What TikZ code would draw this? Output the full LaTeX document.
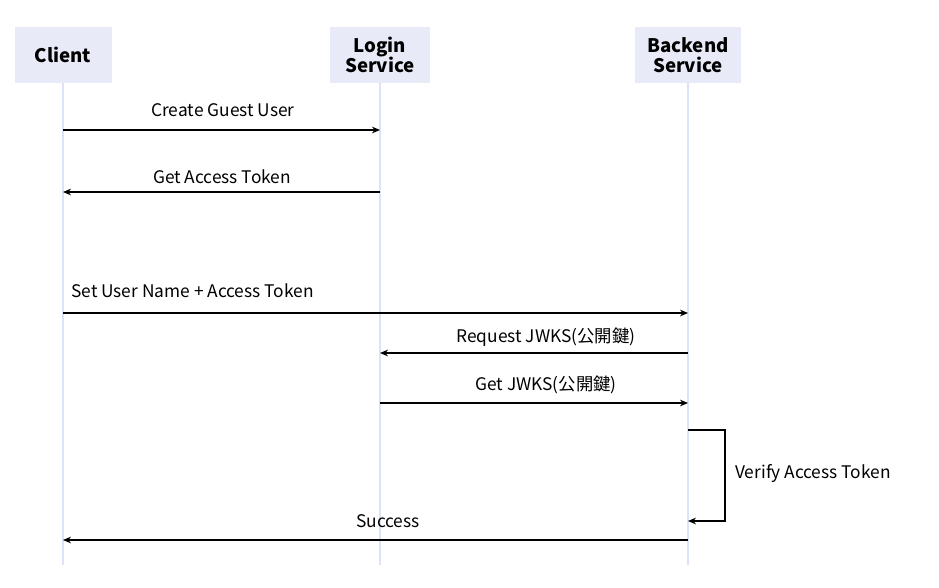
\documentclass[tikz,border=0pt]{standalone}
\usepackage{fontspec}
\setmainfont{Noto Sans CJK JP}
\usetikzlibrary{positioning,arrows.meta}
\definecolor{headfill}{HTML}{E8EAF8}
\definecolor{lifeline}{HTML}{DCE2F7}
\begin{document}
\begin{tikzpicture}[x=0.75pt,y=-0.75pt,
    head/.style={fill=headfill,font=\bfseries\fontsize{14}{15}\selectfont,align=center,minimum height=56*0.75pt,inner sep=0pt},
    life/.style={draw=lifeline,line width=2.2pt},
    msg/.style={-{Stealth[length=6pt,width=5pt]},line width=0.8pt},
    lbl/.style={font=\fontsize{13}{14}\selectfont,inner sep=0pt}]
\useasboundingbox (0,0) rectangle (939,587);
            % participants
            \node[head,minimum width=97*0.75pt] (client)  at (63,55)  {Client};
            \node[head,minimum width=100*0.75pt] (login)  at (380,55) {Login\\Service};
            \node[head,minimum width=106*0.75pt] (backend) at (688,55) {Backend\\Service};
            \coordinate (cb) at (63,565);
            \coordinate (lb) at (380,565);
            \coordinate (bb) at (688,565);
            \draw[life] (client.south) -- (cb);
            \draw[life] (login.south) -- (lb);
            \draw[life] (backend.south) -- (bb);
            % messages
            \draw[msg] (client |- 0,130) -- (login |- 0,130);
            \node[lbl] (m1) at (223,110) {Create Guest User};
            \draw[msg] (login |- 0,192) -- (client |- 0,192);
            \node[lbl] (m2) at (222,177) {Get Access Token};
            \draw[msg] (client |- 0,313) -- (backend |- 0,313);
            \node[lbl,anchor=west] (m3) at (71,291) {Set User Name + Access Token};
            \draw[msg] (backend |- 0,353) -- (login |- 0,353);
            \node[lbl] (m4) at (546,337) {Request JWKS(公開鍵)};
            \draw[msg] (login |- 0,403) -- (backend |- 0,403);
            \node[lbl] (m5) at (546,385) {Get JWKS(公開鍵)};
            \draw[msg] (backend |- 0,430) -- ++(37,0) |- (backend |- 0,521);
            \node[lbl,anchor=west] (m6) at (735,474) {Verify Access Token};
            \draw[msg] (backend |- 0,540) -- (client |- 0,540);
            \node[lbl] (m7) at (388,521) {Success};
\end{tikzpicture}
\end{document}
